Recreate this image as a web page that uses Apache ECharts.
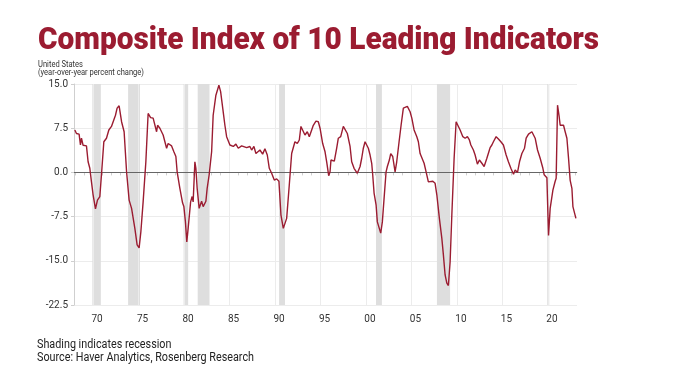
<!DOCTYPE html>
<html>
<head>
<meta charset="utf-8">
<script src="https://cdn.jsdelivr.net/npm/echarts@6/dist/echarts.min.js"></script>
<style>html,body{margin:0;padding:0;background:#fff;}#c{width:680px;height:383px;}</style>
</head>
<body>
<div id="c"></div>
<script>
const years = [
1967.99,1968.17,1968.46,1968.61,1968.72,1968.90,1969.09,1969.27,1969.45,1969.64,1969.82,1970.00,1970.26,1970.48,1970.74,1970.92,
1971.18,1971.47,1971.73,1972.02,1972.20,1972.46,1972.64,1972.86,1973.13,1973.41,1973.68,1973.96,1974.23,1974.59,1974.84,1975.06,
1975.25,1975.50,1975.80,1976.05,1976.32,1976.60,1976.79,1976.98,1977.09,1977.34,1977.70,1978.08,1978.25,1978.63,1978.88,1979.10,
1979.24,1979.54,1979.84,1979.98,1980.15,1980.30,1980.45,1980.72,1980.89,1981.00,1981.19,1981.30,1981.44,1981.66,1981.93,1982.10,
1982.40,1982.54,1982.76,1983.03,1983.20,1983.50,1983.83,1984.02,1984.30,1984.49,1984.68,1985.04,1985.41,1985.70,1985.96,1986.33,
1986.88,1987.24,1987.43,1987.68,1987.90,1988.34,1988.64,1988.89,1989.15,1989.37,1989.63,1989.92,1990.18,1990.43,1990.65,1990.91,
1991.09,1991.28,1991.57,1991.83,1992.19,1992.45,1992.67,1992.85,1993.04,1993.29,1993.55,1993.77,1994.03,1994.21,1994.50,1994.76,
1994.95,1995.24,1995.50,1995.68,1995.90,1996.05,1996.15,1996.34,1996.52,1996.78,1996.96,1997.22,1997.51,1997.70,1997.95,1998.25,
1998.43,1998.69,1999.05,1999.35,1999.53,1999.71,1999.90,2000.08,2000.26,2000.45,2000.63,2000.74,2000.89,2001.11,2001.25,2001.44,
2001.62,2001.80,2001.99,2002.21,2002.35,2002.57,2002.72,2002.94,2003.20,2003.38,2003.64,2003.86,2004.11,2004.30,2004.55,2004.85,
2005.04,2005.29,2005.59,2005.76,2005.95,2006.14,2006.39,2006.61,2006.86,2007.05,2007.35,2007.60,2007.79,2008.07,2008.34,2008.51,
2008.70,2008.89,2009.06,2009.25,2009.44,2009.69,2009.91,2010.05,2010.35,2010.65,2010.90,2011.15,2011.37,2011.53,2011.81,2012.00,
2012.25,2012.47,2012.74,2012.99,2013.29,2013.57,2013.65,2013.84,2014.01,2014.31,2014.56,2014.83,2015.11,2015.41,2015.66,2015.93,
2016.22,2016.40,2016.66,2016.88,2017.14,2017.43,2017.61,2017.87,2018.24,2018.42,2018.60,2018.86,2019.15,2019.45,2019.59,2019.78,
2019.89,2020.07,2020.25,2020.55,2020.80,2020.91,2021.06,2021.24,2021.35,2021.54,2021.72,2021.90,2022.09,2022.27,2022.45,2022.64,
2022.75,2022.89,2023.08
];
// Year-over-year percent change of the composite index
const values = [
7.2,6.6,6.5,4.65,5.8,4.6,4.4,4.5,1.8,0.7,-1.6,-3.8,-6.2,-4.7,-4.1,-0.4,
5.2,5.8,7.2,7.8,8.0,9.7,10.9,11.3,8.6,6.9,0.1,-4.7,-6.1,-9.5,-12.3,-12.8,
-10.1,-5.0,1.8,10.0,9.3,9.2,8.9,6.9,8.0,7.5,6.35,4.1,4.9,4.5,3.5,2.7,
0.1,-2.7,-5.2,-5.8,-8.4,-11.8,-9.5,-5.0,-4.1,-5.0,1.8,0.7,-2.7,-6.1,-4.9,-5.8,
-4.9,-2.7,-0.4,3.5,9.7,13.1,14.8,13.7,10.3,8.0,6.06,4.65,4.4,4.8,4.1,4.5,
4.2,4.4,3.8,4.4,3.2,3.8,3.1,4.0,2.95,0.7,-0.15,-1.3,-1.1,-1.5,-7.2,-9.5,
-9.8,-7.8,-2.1,3.2,5.2,4.9,5.5,7.8,7.5,6.35,6.9,6.06,7.2,8.0,8.7,8.6,
7.5,4.9,3.5,1.8,-0.55,0.1,2.1,2.4,1.9,4.1,5.8,6.06,7.8,7.5,6.6,4.4,
1.8,0.7,-0.15,1.0,2.4,4.1,5.2,4.9,4.1,2.95,1.55,-0.4,-3.5,-5.5,-8.4,-8.6,
-10.3,-8.4,-4.4,0.1,1.0,2.1,3.2,2.7,0.1,1.8,5.2,8.0,10.9,11.2,11.2,10.3,
9.2,7.2,6.06,5.2,3.2,2.95,1.55,0.1,-1.6,-1.85,-1.5,-1.85,-3.8,-7.8,-11.2,-14.0,
-17.4,-18.8,-19.2,-15.2,-7.2,2.4,8.6,8.9,7.2,6.06,5.8,6.06,5.5,4.65,3.8,2.95,
1.4,2.1,1.55,1.0,2.4,3.8,4.2,4.65,5.2,6.06,5.67,5.2,4.65,2.95,1.8,0.7,
-0.3,0.4,0.0,1.8,3.2,4.1,5.8,6.5,6.9,7.2,5.8,3.8,2.4,0.7,-0.4,-0.3,
-0.9,-10.7,-6.1,-3.0,-1.5,-1.0,11.4,9.45,8.0,7.8,8.0,6.9,5.8,2.4,-1.35,-2.7,
-5.8,-6.1,-7.8
];
// Recession periods (start, end) in decimal years
const recessionStarts = [1969.92,1973.85,1979.95,1981.50,1990.45,2001.10,2007.80,2019.93];
const recessionEnds   = [1970.85,1975.15,1980.45,1982.80,1991.10,2001.75,2009.25,2020.15];
// Year axis labels and y-axis ticks
const labelYears = [1970,1975,1980,1985,1990,1995,2000,2005,2010,2015,2020];
const yMin = -22.5, yMax = 15, yStep = 7.5;

const TITLE = 'Composite Index of 10 Leading Indicators';
const SUB1 = 'United States';
const SUB2 = '(year-over-year percent change)';
const FOOT1 = 'Shading indicates recession';
const FOOT2 = 'Source: Haver Analytics, Rosenberg Research';

const RED = '#9b1c31';
const measureCtx = document.createElement('canvas').getContext('2d');
function widthOf(text, font){ measureCtx.font = font; return measureCtx.measureText(text).width; }
const titleFont = '900 31px Roboto';
const subFont = '8.5px Roboto';
const footFont = '12px Roboto';
const titleScale = 561 / widthOf(TITLE, titleFont);
const subScale = 106 / widthOf(SUB2, subFont);
const footScale = 217 / widthOf(FOOT2, footFont);

const chart = echarts.init(document.getElementById('c'), null, {renderer:'canvas'});
const lineData = years.map((y,i)=>[y, values[i]]);
const minorTicks = [];
for (let y = 1968; y <= 2023; y++) minorTicks.push(y);

function txt(text, x, y, font, fill, sx){
  return {type:'text', x:x, y:y, scaleX:sx, scaleY:1, silent:true,
    style:{text:text, font:font, fill:fill, align:'left', verticalAlign:'middle'}};
}

chart.setOption({
  animation:false,
  backgroundColor:'#fff',
  graphic:[
    txt(TITLE, 38, 41.5, titleFont, RED, titleScale),
    txt(SUB1, 38, 65, subFont, '#333', subScale),
    txt(SUB2, 38, 72.5, subFont, '#333', subScale),
    txt(FOOT1, 37, 345, footFont, '#222', footScale),
    txt(FOOT2, 37, 358, footFont, '#222', footScale)
  ],
  grid:{left:74, right:103, top:84, bottom:78, containLabel:false},
  xAxis:{
    type:'value', min:1967.9, max:2023.2,
    axisLine:{show:true, lineStyle:{color:'#cfcfcf', width:1}},
    axisTick:{show:true, customValues:minorTicks, length:3, lineStyle:{color:'#cfcfcf'}},
    axisLabel:{customValues:labelYears, color:'#333', fontFamily:'Roboto', fontSize:10, margin:9,
      padding:[0,0,0,8],
      formatter:v=>String(Math.round(v)%100).padStart(2,'0')},
    splitLine:{show:false}
  },
  yAxis:{
    type:'value', min:yMin, max:yMax, interval:yStep,
    axisLine:{show:true, lineStyle:{color:'#cfcfcf', width:1}},
    axisTick:{show:true, length:3, lineStyle:{color:'#cfcfcf'}},
    axisLabel:{color:'#333', fontFamily:'Roboto', fontSize:10, margin:6,
      formatter:v=>v.toFixed(1)},
    splitLine:{show:true, lineStyle:{color:'#ececec', width:1}}
  },
  series:[
    {
      type:'line', data:lineData, showSymbol:false, symbol:'none', z:5,
      lineStyle:{color:RED, width:1.4},
      markArea:{silent:true, itemStyle:{color:'#dedede'},
        data:recessionStarts.map((s,i)=>[{xAxis:s},{xAxis:recessionEnds[i]}])},
      markLine:{silent:true, symbol:'none', label:{show:false},
        lineStyle:{color:'#ececec', type:'solid', width:1},
        data:labelYears.map(y=>({xAxis:y}))}
    },
    {
      type:'line', data:[], z:4,
      markLine:{silent:true, symbol:'none', label:{show:false},
        lineStyle:{color:'#666', type:'solid', width:1},
        data:[{yAxis:0}]}
    }
  ]
});
</script>
</body>
</html>
